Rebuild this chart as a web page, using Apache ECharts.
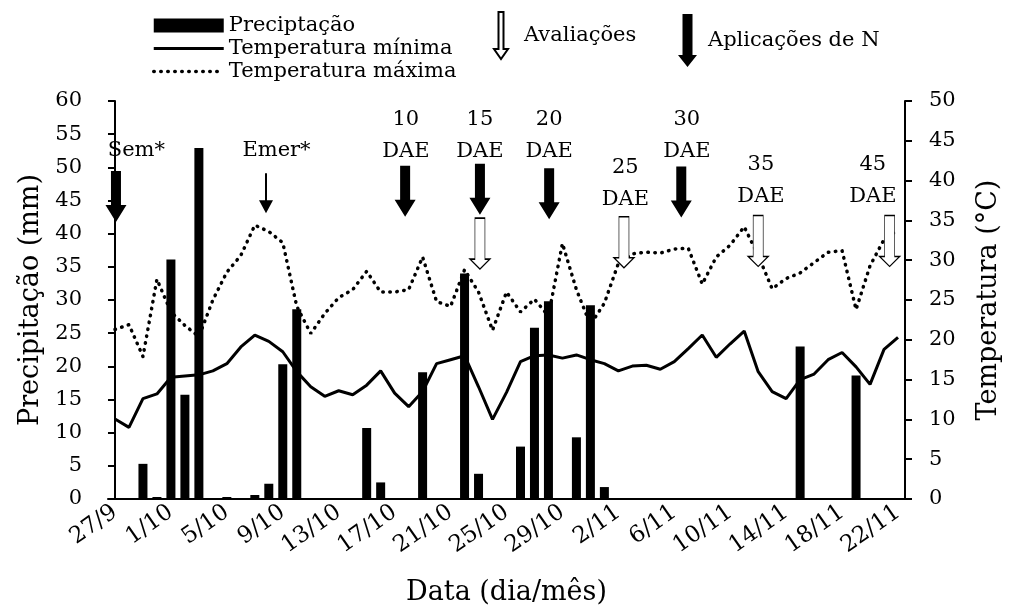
<!DOCTYPE html>
<html>
<head>
<meta charset="utf-8">
<script src="https://cdn.jsdelivr.net/npm/echarts@6/dist/echarts.min.js"></script>
<style>
  html, body { margin: 0; padding: 0; background: #fff; }
  #chart { width: 1010px; height: 611px; }
</style>
</head>
<body>
<div id="chart"></div>
<script>
// dias de 27/9 a 22/11
const dias = [];
const fimMes = { 9: 30, 10: 31, 11: 30 };
let dd = 27, mm = 9;
for (let k = 0; k < 57; k++) {
  dias.push(dd + "/" + mm);
  dd++;
  if (dd > fimMes[mm]) { dd = 1; mm++; }
}

// precipitação diária (mm)
const precipitacao = [
  null, null, 5.3, 0.3, 36.1, 15.7, 52.9, null, 0.3, null, 0.6, 2.3, 20.3, 28.6,
  null, null, null, null, 10.7, 2.5, null, null, 19.1, null, null, 34.0, 3.8, null,
  null, 7.9, 25.8, 29.8, null, 9.3, 29.2, 1.8,
  null, null, null, null, null, null, null, null, null, null, null, null, null,
  23.0, null, null, null, 18.6, null, null, null
];

// temperatura mínima (°C)
const tempMin = [
  10.05, 9.0, 12.6, 13.2, 15.3, 15.45, 15.6, 16.1, 17.0, 19.1, 20.6, 19.8, 18.5, 16.0,
  14.1, 12.9, 13.6, 13.1, 14.3, 16.1, 13.3, 11.6, 13.5, 17.0, 17.5, 18.0, 14.1, 10.0,
  13.4, 17.25, 18.0, 18.1, 17.7, 18.1, 17.5, 17.0, 16.1, 16.7, 16.8, 16.3, 17.25, 18.9,
  20.6, 17.8, 19.5, 21.1, 16.0, 13.5, 12.6, 15.0, 15.7, 17.5, 18.4, 16.6, 14.4, 18.8, 20.3
];

// temperatura máxima (°C)
const tempMax = [
  21.3, 21.9, 17.9, 27.6, 23.5, 21.8, 20.4, 25.0, 28.5, 30.6, 34.4, 33.6, 32.2, 24.2,
  20.8, 23.3, 25.3, 26.3, 28.6, 26.0, 26.0, 26.3, 30.4, 24.8, 24.2, 28.8, 26.0, 21.2,
  26.0, 23.5, 25.1, 23.0, 32.1, 26.3, 21.9, 24.6, 29.6, 30.8, 31.0, 30.9, 31.4, 31.5,
  27.0, 30.4, 31.9, 34.2, 30.6, 26.4, 27.7, 28.4, 29.7, 31.0, 31.2, 23.8, 29.3, 32.6, 33.8
];

// setas: posição em dias desde 27/9 e altura na escala de precipitação
const aplicacoesX = [0.07, 20.75, 26.1, 31.05, 40.5];
const aplicacoesY = [45.6, 46.4, 46.7, 46.0, 46.3];
const avaliacoesX = [26.1, 36.4, 46.0, 55.4];
const avaliacoesY = [38.5, 38.7, 38.9, 38.9];
const emergenciaX = [10.8];
const emergenciaY = [46.1];

// rótulos das setas
const rotuloTexto = ["Sem*", "Emer*", "10\nDAE", "15\nDAE", "20\nDAE", "25\nDAE", "30\nDAE", "35\nDAE", "45\nDAE"];
const rotuloX = [1.53, 11.55, 20.8, 26.1, 31.05, 36.5, 40.9, 46.2, 54.2];
const rotuloY = [52.6, 52.6, 54.8, 54.8, 54.8, 47.6, 54.8, 48.0, 48.0];

const fonte = "DejaVu Serif";
const setaCheia = "path://M5.5,0 L15.5,0 L15.5,34 L21,34 L10.5,51 L0,34 L5.5,34 Z";
const setaVazada = "path://M5,0 L15,0 L15,41 L20,41 L10,51 L0,41 L5,41 Z";
const setaFina = "path://M6,0 L8,0 L8,27 L14,27 L7,40 L0,27 L6,27 Z";
const legVazada = "path://M4.5,0 L9.5,0 L9.5,37 L14,37 L7,47 L0,37 L4.5,37 Z";
const legCheia = "path://M4.5,0 L14.5,0 L14.5,41 L19,41 L9.5,53 L0,41 L4.5,41 Z";

const pares = (xs, ys) => xs.map((x, k) => [x, ys[k]]);

const chart = echarts.init(document.getElementById("chart"));

chart.setOption({
  animation: false,
  backgroundColor: "#fff",
  textStyle: { fontFamily: fonte, color: "#000" },
  legend: [
    {
      orient: "vertical",
      left: 152,
      top: 15,
      padding: 0,
      itemGap: 2,
      itemWidth: 70,
      itemHeight: 14,
      selectedMode: false,
      lineStyle: { width: "inherit" },
      textStyle: { fontFamily: fonte, fontSize: 21, color: "#000" },
      data: [
        { name: "Preciptação", icon: "rect" },
        { name: "Temperatura mínima", itemStyle: { opacity: 0 } },
        { name: "Temperatura máxima", itemStyle: { opacity: 0 } },
      ],
    },
    {
      left: 493,
      top: 11,
      padding: 0,
      itemWidth: 14,
      itemHeight: 47,
      selectedMode: false,
      textStyle: { fontFamily: fonte, fontSize: 21, color: "#000", padding: [22, 0, 0, 11] },
      data: [{ name: "Avaliações", icon: legVazada }],
    },
    {
      left: 678,
      top: 14,
      padding: 0,
      itemWidth: 19,
      itemHeight: 53,
      selectedMode: false,
      textStyle: { fontFamily: fonte, fontSize: 21, color: "#000", padding: [0, 0, 0, 6] },
      data: [{ name: "Aplicações de N", icon: legCheia }],
    },
  ],
  grid: { left: 108, right: 101, top: 101, bottom: 112, containLabel: false },
  xAxis: [
    {
      type: "category",
      data: dias,
      boundaryGap: true,
      axisLine: { lineStyle: { color: "#000", width: 2 } },
      axisTick: { interval: 3, length: 7, lineStyle: { color: "#000", width: 2 } },
      axisLabel: {
        interval: 3,
        rotate: 35,
        margin: 11,
        fontFamily: fonte,
        fontSize: 23,
        color: "#000",
      },
      name: "Data (dia/mês)",
      nameLocation: "middle",
      nameGap: 80,
      nameTextStyle: { fontFamily: fonte, fontSize: 27, color: "#000" },
    },
    { type: "value", min: -0.5, max: 56.5, show: false },
  ],
  yAxis: [
    {
      type: "value",
      min: 0,
      max: 60,
      interval: 5,
      position: "left",
      splitLine: { show: false },
      axisLine: { show: true, lineStyle: { color: "#000", width: 2 } },
      axisTick: { show: true, length: 7, lineStyle: { color: "#000", width: 2 } },
      axisLabel: { margin: 26, fontFamily: fonte, fontSize: 21, color: "#000" },
      name: "Precipitação (mm)",
      nameLocation: "middle",
      nameRotate: 90,
      nameGap: 62,
      nameTextStyle: { fontFamily: fonte, fontSize: 27, color: "#000" },
    },
    {
      type: "value",
      min: 0,
      max: 50,
      interval: 5,
      position: "right",
      splitLine: { show: false },
      axisLine: { show: true, lineStyle: { color: "#000", width: 2 } },
      axisTick: { show: true, length: 7, lineStyle: { color: "#000", width: 2 } },
      axisLabel: { margin: 24, fontFamily: fonte, fontSize: 21, color: "#000" },
      name: "Temperatura (°C)",
      nameLocation: "middle",
      nameRotate: 90,
      nameGap: 70,
      nameTextStyle: { fontFamily: fonte, fontSize: 27, color: "#000" },
    },
  ],
  series: [
    {
      name: "Preciptação",
      type: "bar",
      yAxisIndex: 0,
      data: precipitacao,
      barWidth: 9,
      itemStyle: { color: "#000" },
      z: 2,
    },
    {
      name: "Temperatura mínima",
      type: "line",
      yAxisIndex: 1,
      data: tempMin,
      symbol: "none",
      lineStyle: { color: "#000", width: 3 },
      itemStyle: { color: "#000" },
      z: 3,
    },
    {
      name: "Temperatura máxima",
      type: "line",
      yAxisIndex: 1,
      data: tempMax,
      symbol: "none",
      lineStyle: { color: "#000", width: 3.5, type: [0.5, 6.5], cap: "round" },
      itemStyle: { color: "#000" },
      z: 3,
    },
    {
      name: "Aplicações de N",
      type: "scatter",
      xAxisIndex: 1,
      yAxisIndex: 0,
      data: pares(aplicacoesX, aplicacoesY),
      symbol: setaCheia,
      symbolSize: [21, 51],
      itemStyle: { color: "#000", opacity: 1 },
      silent: true,
      z: 5,
    },
    {
      name: "Avaliações",
      type: "scatter",
      xAxisIndex: 1,
      yAxisIndex: 0,
      data: pares(avaliacoesX, avaliacoesY),
      symbol: setaVazada,
      symbolSize: [20, 51],
      itemStyle: { color: "#fff", borderColor: "#000", borderWidth: 1, opacity: 1 },
      silent: true,
      z: 5,
    },
    {
      name: "Emergência",
      type: "scatter",
      xAxisIndex: 1,
      yAxisIndex: 0,
      data: pares(emergenciaX, emergenciaY),
      symbol: setaFina,
      symbolSize: [14, 40],
      itemStyle: { color: "#000", opacity: 1 },
      silent: true,
      z: 5,
    },
    {
      name: "Rótulos",
      type: "scatter",
      xAxisIndex: 1,
      yAxisIndex: 0,
      data: pares(rotuloX, rotuloY),
      symbol: "rect",
      symbolSize: 1,
      itemStyle: { color: "rgba(0,0,0,0)", opacity: 1 },
      silent: true,
      label: {
        show: true,
        position: "inside",
        formatter: (p) => rotuloTexto[p.dataIndex],
        fontFamily: fonte,
        fontSize: 21,
        lineHeight: 32,
        color: "#000",
      },
      z: 6,
    },
  ],
});
</script>
</body>
</html>
